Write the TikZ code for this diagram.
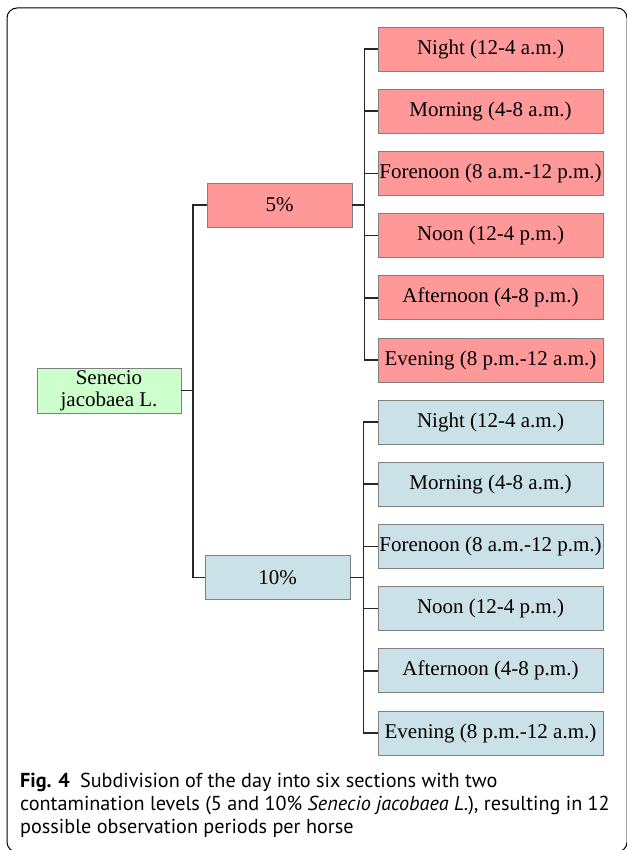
\documentclass[tikz,border=0pt]{standalone}
\usepackage{fontspec}
\setmainfont{Liberation Serif}
\newfontfamily\capfont{PT Sans}
\definecolor{boxred}{RGB}{255,153,153}
\definecolor{boxblue}{RGB}{202,225,232}
\definecolor{boxgreen}{RGB}{204,255,204}
\definecolor{boxline}{RGB}{128,128,128}
\tikzset{
  box/.style={draw=boxline, line width=0.8pt, minimum height=44pt, inner sep=0pt,
    font=\fontsize{21}{22}\selectfont},
  leaf/.style={box, minimum width=225pt},
  level/.style={box, minimum width=145pt},
  link/.style={line width=1.5pt, black!85},
}
\begin{document}
\begin{tikzpicture}[x=1pt,y=-1pt]
\useasboundingbox (0,0) rectangle (626,850);
%% frame
  \draw[line width=1pt, rounded corners=10pt] (7,8) rectangle (627,852);

%% root and levels
  \node[box, fill=boxgreen, minimum width=144pt, minimum height=45pt, align=center] (sj) at (109,390.5) {Senecio\\jacobaea L.};
  \node[level, fill=boxred] (p5) at (279.5,205) {5\%};
  \node[level, fill=boxblue] (p10) at (277.5,577.5) {10\%};
  \draw[link] (sj.east) -- ++(11.5,0) |- (p5.west);
  \draw[link] (sj.east) -- ++(11.5,0) |- (p10.west);

%% day sections
  \foreach \lbl [count=\i] in {{Night (12-4 a.m.)}, {Morning (4-8 a.m.)},
      {Forenoon (8 a.m.-12 p.m.)}, {Noon (12-4 p.m.)}, {Afternoon (4-8 p.m.)},
      {Evening (8 p.m.-12 a.m.)}} {
    \node[leaf, fill=boxred] (r\i) at (490.5,{49+62.2*(\i-1)}) {\lbl};
    \draw[link] (p5.east) -- ++(12,0) |- (r\i.west);
    \node[leaf, fill=boxblue] (b\i) at (490.5,{422+62.2*(\i-1)}) {\lbl};
    \draw[link] (p10.east) -- ++(13,0) |- (b\i.west);
  }

%% caption
  \node[anchor=base west, inner sep=0pt, align=left, font=\capfont\fontsize{20.2}{23}\selectfont] (cap) at (20,833)
    {\textbf{Fig. 4}\enspace Subdivision of the day into six sections with two\\
     contamination levels (5 and 10\% \textit{Senecio jacobaea L.}), resulting in 12\\
     possible observation periods per horse};
\end{tikzpicture}
\end{document}
